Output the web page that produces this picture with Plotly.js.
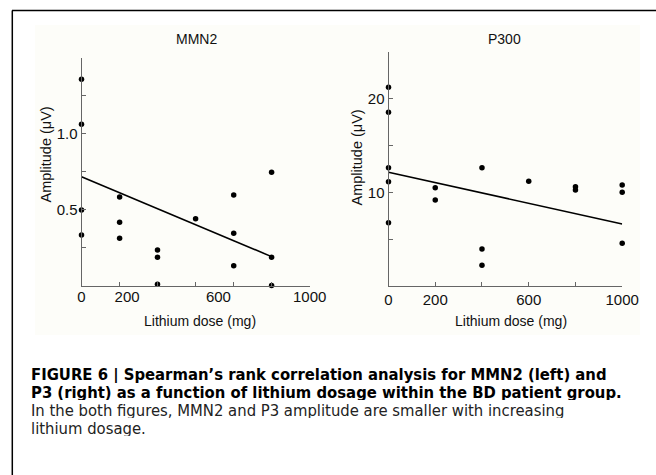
<!DOCTYPE html>
<html>
<head>
<meta charset="utf-8">
<script src="https://cdn.plot.ly/plotly-3.0.1.min.js"></script>
<style>html,body{margin:0;padding:0;background:#fff;}#chart{width:656px;height:475px;}</style>
</head>
<body>
<div id="chart"></div>
<script>
// MMN2 panel
var mmnDose = [0,0,0,0, 167,167,167, 333,333,333, 500, 667,667,667, 833,833,833];
var mmnAmp  = [1.358,1.062,0.499,0.335, 0.585,0.419,0.313, 0.237,0.189,0.011, 0.442, 0.598,0.346,0.133, 0.747,0.189,0.003];
var mmnFitX = [0, 833];
var mmnFitY = [0.718, 0.193];
var mmnTickMarks = [167,333,500,667,833,1000];
var mmnTickLabels = ['0','200','600','1000'];
var mmnTickLabelVals = [0,200,600,1000];
var mmnYTicks = [0.25,0.5,0.75,1.0,1.25,1.5];
var mmnYLabels = ['','0.5','','1.0','',''];

// P300 panel
var p3Dose = [0,0,0,0,0, 200,200, 400,400,400, 600, 800,800, 1000,1000,1000];
var p3Amp  = [21.2,18.54,12.63,11.13,6.76, 10.49,9.18, 12.63,3.95,2.21, 11.17, 10.6,10.25, 10.78,10.0,4.56];
var p3FitX = [0, 1000];
var p3FitY = [12.13, 6.62];
var p3XTicks = [0,200,400,600,800,1000];
var p3XLabels = ['0','200','','600','','1000'];
var p3YTicks = [5,10,15,20,25];
var p3YLabels = ['','10','','20',''];

// caption
var captionLines = [
  '<b>FIGURE 6 | Spearman\u2019s rank correlation analysis for MMN2 (left) and</b>',
  '<b>P3 (right) as a function of lithium dosage within the BD patient group.</b>',
  'In the both figures, MMN2 and P3 amplitude are smaller with increasing',
  'lithium dosage.'
];

var W = 656, H = 475;
function px(x){return x/W;}
function py(y){return 1 - y/H;}

var axisCol = '#666';
var fontFam = 'Liberation Sans, Arial, sans-serif';
var capFam = 'Liberation Sans Narrow, Arial Narrow, DejaVu Sans Condensed, sans-serif';

var traces = [
  {x: mmnDose, y: mmnAmp, xaxis:'x', yaxis:'y', mode:'markers', type:'scatter',
   marker:{color:'#000', size:5.5}, cliponaxis:false, hoverinfo:'skip', showlegend:false},
  {x: mmnFitX, y: mmnFitY, xaxis:'x3', yaxis:'y', mode:'lines', type:'scatter',
   line:{color:'#000', width:1.6}, cliponaxis:false, showlegend:false},
  {x: p3Dose, y: p3Amp, xaxis:'x2', yaxis:'y2', mode:'markers', type:'scatter',
   marker:{color:'#000', size:5.5}, cliponaxis:false, hoverinfo:'skip', showlegend:false},
  {x: p3FitX, y: p3FitY, xaxis:'x2', yaxis:'y2', mode:'lines', type:'scatter',
   line:{color:'#000', width:1.6}, cliponaxis:false, showlegend:false}
];

var tickFont = {family: fontFam, size: 15, color:'#111'};

function baseAxis(extra){
  var a = {showgrid:false, zeroline:false, showline:true, linecolor:axisCol, linewidth:1,
           ticks:'inside', ticklen:4, tickwidth:1, tickcolor:axisCol, tickfont:tickFont,
           tickmode:'array', fixedrange:true};
  for (var k in extra) a[k] = extra[k];
  return a;
}

var annotations = [
  {text:'MMN2', x:px(196.7), y:py(39), xref:'paper', yref:'paper', showarrow:false,
   xanchor:'center', yanchor:'middle', font:{family:fontFam, size:14, color:'#111'}},
  {text:'P300', x:px(504), y:py(38.5), xref:'paper', yref:'paper', showarrow:false,
   xanchor:'center', yanchor:'middle', font:{family:fontFam, size:14, color:'#111'}},
  {text:'Amplitude (μV)', x:px(45.5), y:py(155), xref:'paper', yref:'paper', showarrow:false,
   textangle:-90, xanchor:'center', yanchor:'middle', font:{family:fontFam, size:14.5, color:'#111'}},
  {text:'Amplitude (μV)', x:px(357), y:py(157.5), xref:'paper', yref:'paper', showarrow:false,
   textangle:-90, xanchor:'center', yanchor:'middle', font:{family:fontFam, size:14.5, color:'#111'}},
  {text:'Lithium dose (mg)', x:px(199.5), y:py(321), xref:'paper', yref:'paper', showarrow:false,
   xanchor:'center', yanchor:'middle', font:{family:fontFam, size:14, color:'#111'}},
  {text:'Lithium dose (mg)', x:px(511), y:py(321), xref:'paper', yref:'paper', showarrow:false,
   xanchor:'center', yanchor:'middle', font:{family:fontFam, size:14, color:'#111'}}
];
var capY = [374.5, 392.2, 409.9, 427.6];
for (var i = 0; i < captionLines.length; i++) {
  annotations.push({text: captionLines[i], x:px(28.7), y:py(capY[i]), xref:'paper', yref:'paper',
    showarrow:false, xanchor:'left', yanchor:'middle', height:16, valign:'middle',
    font:{family:capFam, size:16.5, color: i < 2 ? '#000' : '#222'}});
}

var layout = {
  width: W, height: H,
  margin:{l:0,r:0,t:0,b:0,pad:0},
  paper_bgcolor:'#fff', plot_bgcolor:'rgba(0,0,0,0)',
  showlegend:false,
  xaxis: baseAxis({domain:[px(81.5), px(309.7)], range:[0,1000], anchor:'y',
                   tickvals: mmnTickMarks, showticklabels:false}),
  xaxis3: baseAxis({domain:[px(81.5), px(309.7)], range:[0,1000], anchor:'y', overlaying:'x',
                    showline:false, ticks:'', tickvals: mmnTickLabelVals, ticktext: mmnTickLabels}),
  yaxis: baseAxis({domain:[py(286), py(57.7)], range:[0,1.5], anchor:'x',
                   tickvals: mmnYTicks, ticktext: mmnYLabels}),
  xaxis2: baseAxis({domain:[px(388.5), px(622.2)], range:[0,1000], anchor:'y2',
                    tickvals: p3XTicks, ticktext: p3XLabels}),
  yaxis2: baseAxis({domain:[py(286), py(51.7)], range:[0,25], anchor:'x2',
                    tickvals: p3YTicks, ticktext: p3YLabels}),
  shapes: [
    {type:'rect', xref:'paper', yref:'paper', x0:px(35), x1:px(640), y0:py(335), y1:py(25),
     fillcolor:'#fdfdf9', line:{width:0}, layer:'below'},
    {type:'line', xref:'paper', yref:'paper', x0:px(12), x1:1, y0:py(10.5), y1:py(10.5),
     line:{color:'#000', width:1.5}},
    {type:'line', xref:'paper', yref:'paper', x0:px(12.3), x1:px(12.3), y0:0, y1:py(10.5),
     line:{color:'#000', width:1.5}}
  ],
  annotations: annotations
};

Plotly.newPlot('chart', traces, layout, {staticPlot:true, displayModeBar:false});
</script>
</body>
</html>
